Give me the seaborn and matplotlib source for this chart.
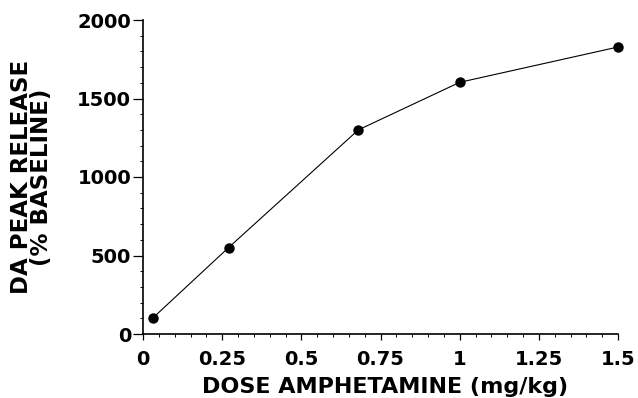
import matplotlib
matplotlib.use("Agg")
import matplotlib.pyplot as plt
from matplotlib.ticker import MultipleLocator
import seaborn as sns
import pandas as pd

dose = [0.03, 0.27, 0.68, 1.0, 1.5]
release = [100, 550, 1300, 1603, 1828]
x_ticks = [0, 0.25, 0.5, 0.75, 1, 1.25, 1.5]
x_tick_labels = ["0", "0.25", "0.5", "0.75", "1", "1.25", "1.5"]
y_ticks = [0, 500, 1000, 1500, 2000]

sns.set_theme(style="ticks")
plt.rcParams['font.family'] = ['DejaVu Sans']
plt.rcParams['font.weight'] = 'bold'

df = pd.DataFrame({"dose": dose, "release": release})

fig = plt.figure(figsize=(6.38, 3.98), dpi=100)
ax = fig.add_axes([143/638, 64/398, 475/638, 314/398])

sns.lineplot(data=df, x="dose", y="release", ax=ax, color="black",
             linewidth=0.8, marker="o", markersize=7.5, markeredgewidth=0,
             markerfacecolor="black", clip_on=False)

ax.set_xlim(0, 1.5)
ax.set_ylim(0, 2000)
ax.set_xticks(x_ticks)
ax.set_xticklabels(x_tick_labels)
ax.set_yticks(y_ticks)
ax.xaxis.set_minor_locator(MultipleLocator(0.05))
ax.yaxis.set_minor_locator(MultipleLocator(100))

for s in ["top", "right"]:
    ax.spines[s].set_visible(False)
for s in ["left", "bottom"]:
    ax.spines[s].set_linewidth(1.2)
    ax.spines[s].set_color("black")

ax.tick_params(axis="both", which="major", direction="out",
               width=0.9, color="black", labelsize=14, labelcolor="black")
ax.tick_params(axis="both", which="minor", direction="out", length=2.2,
               width=0.7, color="black")
ax.tick_params(axis="y", which="major", length=7, pad=1.5)
ax.tick_params(axis="x", which="major", length=4, pad=7.5)
for lab in ax.get_xticklabels() + ax.get_yticklabels():
    lab.set_fontweight("bold")

ax.set_xlabel("DOSE AMPHETAMINE (mg/kg)", fontsize=16, fontweight="bold",
              color="black", va="center")
ax.xaxis.set_label_coords(0.509, -0.170)
ax.set_ylabel("DA PEAK RELEASE\n(% BASELINE)", fontsize=16.5, fontweight="bold",
              color="black", va="center", linespacing=0.85)
ax.yaxis.set_label_coords(-0.235, 0.5)

ax.grid(False)
fig.savefig("out.png", dpi=100)
